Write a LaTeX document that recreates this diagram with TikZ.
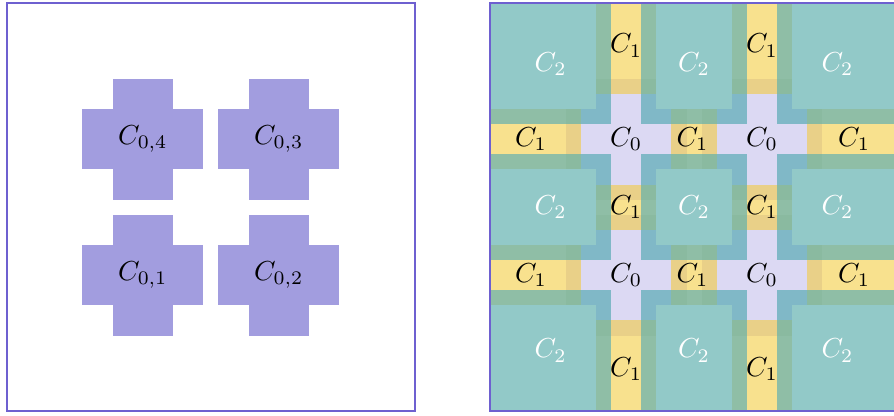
\documentclass[tikz,border=0pt]{standalone}
\definecolor{framecol}{RGB}{110,96,208}
\definecolor{crosscol}{RGB}{162,157,223}
\definecolor{tealC}{RGB}{146,201,200}
\definecolor{yellowC}{RGB}{248,225,142}
\definecolor{greenC}{RGB}{143,190,166}
\definecolor{lavC}{RGB}{220,217,243}
\definecolor{blueC}{RGB}{128,184,199}
\definecolor{orangeC}{RGB}{233,208,136}
\definecolor{oliveC}{RGB}{138,186,160}
\begin{document}
\begin{tikzpicture}[x=5.5pt, y=5.5pt,
    lbl/.style={inner sep=1pt},
    lblw/.style={lbl, text=white},
    frame/.style={framecol, line width=0.8pt}]
    \useasboundingbox (-0.46,-0.26) rectangle (58.74,27.22);

    % left: the four crosses C_{0,i}
    \foreach \cx/\cy/\i in {9/9/1, 18/9/2, 18/18/3, 9/18/4} {
        \fill[crosscol] (\cx-4,\cy-2) rectangle (\cx+4,\cy+2);
        \fill[crosscol] (\cx-2,\cy-4) rectangle (\cx+2,\cy+4);
        \node[lbl] (c0\i) at (\cx,\cy) {$C_{0,\i}$};
    }
    \draw[frame] (0,0) rectangle (27,27);

    % right: overlapping cover
    \begin{scope}[shift={(32,0)}]
    % C_2 squares
    \foreach \xa/\xb in {0/8, 10/17, 19/27}
        \foreach \ya/\yb in {0/8, 10/17, 19/27}
            \fill[tealC] (\xa,\ya) rectangle (\xb,\yb);

    % C_1 strips, green where they meet C_2
    \foreach \a in {7, 16} {
        \foreach \lo/\hi in {0/6, 12/15, 21/27} {
            \fill[greenC] (\a,\lo) rectangle (\a+4,\hi);
            \fill[yellowC] (\a+1,\lo) rectangle (\a+3,\hi);
            \fill[greenC] (\lo,\a) rectangle (\hi,\a+4);
            \fill[yellowC] (\lo,\a+1) rectangle (\hi,\a+3);
        }
    }

    % C_0 crosses
    \foreach \cx in {9, 18} {
        \foreach \cy in {9, 18} {
            \fill[blueC] (\cx-4,\cy-2) rectangle (\cx+4,\cy+2);
            \fill[blueC] (\cx-2,\cy-4) rectangle (\cx+2,\cy+4);
            \foreach \r in {0, 90, 180, 270} {
                \begin{scope}[shift={(\cx,\cy)}, rotate=\r]
                    \fill[oliveC] (-2,3) rectangle (2,4);
                    \fill[orangeC] (-1,3) rectangle (1,4);
                \end{scope}
            }
            \fill[lavC] (\cx-3,\cy-1) rectangle (\cx+3,\cy+1);
            \fill[lavC] (\cx-1,\cy-3) rectangle (\cx+1,\cy+3);
        }
    }

    % labels
    \foreach \x [count=\i] in {4, 13.5, 23}
        \foreach \y [count=\j] in {4, 13.5, 23}
            \node[lblw] (c2-\i-\j) at (\x,\y) {$C_2$};
    \foreach \a [count=\i] in {9, 18} {
        \foreach \b [count=\j] in {2.8, 13.5, 24.2} {
            \node[lbl] (c1v-\i-\j) at (\a,\b) {$C_1$};
            \node[lbl] (c1h-\i-\j) at (\b-0.1,\a) {$C_1$};
        }
    }
    \foreach \cx [count=\i] in {9, 18}
        \foreach \cy [count=\j] in {9, 18}
            \node[lbl] (c0-\i-\j) at (\cx,\cy) {$C_0$};

    \draw[frame] (0,0) rectangle (27,27);
    \end{scope}
\end{tikzpicture}
\end{document}
